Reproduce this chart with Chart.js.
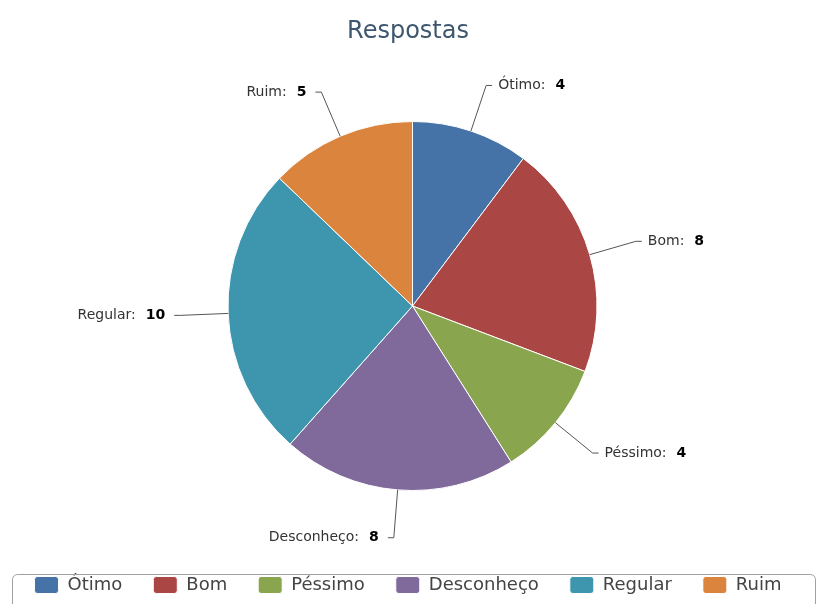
<!DOCTYPE html>
<html>
<head>
<meta charset="utf-8">
<title>Respostas</title>
<script src="https://cdn.jsdelivr.net/npm/chart.js@4"></script>
<style>
  html, body { margin: 0; padding: 0; background: #fff; }
  #wrap { width: 816px; height: 604px; }
</style>
</head>
<body>
<div id="wrap"><canvas id="chart" width="816" height="604"></canvas></div>
<script>
const categories = ["Ótimo", "Bom", "Péssimo", "Desconheço", "Regular", "Ruim"];
const answers = [4, 8, 4, 8, 10, 5];
const sliceColors = ["#4572A7", "#AA4643", "#89A54E", "#80699B", "#3D96AE", "#DB843D"];

const FONT = "'DejaVu Sans', 'Open Sans', sans-serif";

// square box the pie sits in
const pieBox = { left: 227.5, top: 121, right: 597.5, bottom: 491 };

const fixPieArea = {
  id: "fixPieArea",
  afterLayout(chart) {
    const a = chart.chartArea;
    a.left = pieBox.left;
    a.top = pieBox.top;
    a.right = pieBox.right;
    a.bottom = pieBox.bottom;
    a.width = a.right - a.left;
    a.height = a.bottom - a.top;
  }
};

// "Name: value" labels with a bent connector line
const sliceLabels = {
  id: "sliceLabels",
  afterDatasetsDraw(chart) {
    const ctx = chart.ctx;
    const values = chart.data.datasets[0].data;
    chart.getDatasetMeta(0).data.forEach((arc, i) => {
      const p = arc.getProps(["x", "y", "startAngle", "endAngle", "outerRadius"], true);
      const mid = (p.startAngle + p.endAngle) / 2;
      const cos = Math.cos(mid), sin = Math.sin(mid);
      const ex = p.x + cos * p.outerRadius, ey = p.y + sin * p.outerRadius;
      const reach = p.outerRadius + 48;
      const bx = p.x + cos * reach, by = p.y + sin * reach;
      const dir = cos >= 0 ? 1 : -1;
      const sx = bx + dir * 6;

      ctx.save();
      ctx.strokeStyle = "#555";
      ctx.lineWidth = 1;
      ctx.beginPath();
      ctx.moveTo(ex, ey);
      ctx.lineTo(bx, by);
      ctx.lineTo(sx, by);
      ctx.stroke();

      const name = chart.data.labels[i] + ":";
      const val = String(values[i]);
      ctx.font = "14px " + FONT;
      const nameW = ctx.measureText(name).width;
      ctx.font = "bold 14px " + FONT;
      const valW = ctx.measureText(val).width;
      const gap = 10;
      const tx = dir > 0 ? sx + 6 : sx - 9 - (nameW + gap + valW);

      ctx.textAlign = "left";
      ctx.textBaseline = "middle";
      ctx.font = "14px " + FONT;
      ctx.fillStyle = "#333";
      ctx.fillText(name, tx, by);
      ctx.font = "bold 14px " + FONT;
      ctx.fillStyle = "#000";
      ctx.fillText(val, tx + nameW + gap, by);
      ctx.restore();
    });
  }
};

// rounded frame around the legend
const legendFrame = {
  id: "legendFrame",
  afterDraw(chart) {
    const lg = chart.legend;
    const ctx = chart.ctx;
    const x = 12.5, y = Math.round(lg.top + 29) + 0.5;
    const w = 815.5 - x, h = 80, r = 5;
    ctx.save();
    ctx.strokeStyle = "#a0a0a0";
    ctx.lineWidth = 1;
    ctx.beginPath();
    ctx.roundRect(x, y, w, h, r);
    ctx.stroke();
    ctx.restore();
  }
};

new Chart(document.getElementById("chart"), {
  type: "pie",
  data: {
    labels: categories,
    datasets: [{
      data: answers,
      backgroundColor: sliceColors,
      borderColor: "#fff",
      borderWidth: 1
    }]
  },
  options: {
    responsive: false,
    animation: false,
    events: [],
    plugins: {
      title: {
        display: true,
        text: "Respostas",
        color: "#3E576F",
        font: { family: FONT, size: 24, weight: "normal" },
        padding: { top: 17, bottom: 23 }
      },
      legend: {
        position: "bottom",
        labels: {
          boxWidth: 24,
          boxHeight: 17,
          useBorderRadius: true,
          borderRadius: 3,
          padding: 31,
          color: "#444",
          font: { family: FONT, size: 18 }
        }
      },
      tooltip: { enabled: false }
    }
  },
  plugins: [fixPieArea, sliceLabels, legendFrame]
});
</script>
</body>
</html>
